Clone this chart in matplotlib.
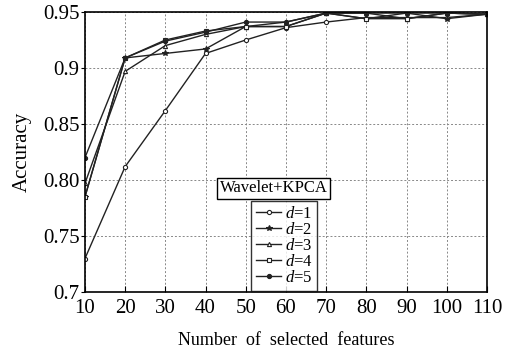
import matplotlib.pyplot as plt
import numpy as np

plt.rcParams["font.family"] = ["Liberation Serif", "DejaVu Serif"]
plt.rcParams["mathtext.fontset"] = "custom"
plt.rcParams["mathtext.it"] = "Liberation Serif:italic"
plt.rcParams["mathtext.rm"] = "Liberation Serif"

# Data
n_features = [10, 20, 30, 40, 50, 60, 70, 80, 90, 100, 110]
acc_d1 = [0.730, 0.812, 0.862, 0.913, 0.925, 0.936, 0.941, 0.945, 0.945, 0.945, 0.948]
acc_d2 = [0.785, 0.909, 0.913, 0.917, 0.937, 0.937, 0.949, 0.944, 0.949, 0.944, 0.948]
acc_d3 = [0.797, 0.897, 0.920, 0.930, 0.937, 0.941, 0.949, 0.949, 0.944, 0.949, 0.948]
acc_d4 = [0.785, 0.909, 0.925, 0.933, 0.937, 0.937, 0.949, 0.944, 0.944, 0.949, 0.948]
acc_d5 = [0.820, 0.909, 0.924, 0.932, 0.941, 0.941, 0.949, 0.949, 0.949, 0.949, 0.948]

series_labels = ["$d$=1", "$d$=2", "$d$=3", "$d$=4", "$d$=5"]
y_ticks = [0.7, 0.75, 0.80, 0.85, 0.9, 0.95]
y_tick_labels = ["0.7", "0.75", "0.80", "0.85", "0.9", "0.95"]

fig = plt.figure(figsize=(5.18, 3.52), dpi=100)
ax = fig.add_axes([0.164, 0.170, 0.776, 0.796])

styles = [
    dict(marker="o", mfc="white", ms=3),
    dict(marker="*", mfc="#222222", ms=4),
    dict(marker="^", mfc="white", ms=3),
    dict(marker="s", mfc="white", ms=3),
    dict(marker="o", mfc="#222222", ms=3),
]
all_acc = [acc_d1, acc_d2, acc_d3, acc_d4, acc_d5]
for acc, lab, st in zip(all_acc, series_labels, styles):
    ax.plot(n_features, acc, color="#222222", lw=1.0, mec="#222222",
            mew=0.8, label=lab, **st)

ax.set_xlim(10, 110)
ax.set_ylim(0.7, 0.95)
ax.set_xticks(n_features)
ax.set_yticks(y_ticks)
ax.set_yticklabels(y_tick_labels)
ax.tick_params(axis="x", direction="in", length=4, labelsize=15, pad=5)
ax.tick_params(axis="y", direction="out", length=3, labelsize=15, pad=1)
ax.grid(True, color="#888888", linestyle=(0, (2, 2)), lw=0.7)
for sp in ax.spines.values():
    sp.set_linewidth(1.2)

ax.set_xlabel("Number  of  selected  features", fontsize=13, labelpad=10)
ax.set_ylabel("Accuracy", fontsize=15, labelpad=8)

ax.text(0.47, 0.371, "Wavelet+KPCA", transform=ax.transAxes, fontsize=12,
        ha="center", va="center",
        bbox=dict(boxstyle="square,pad=0.15", fc="white", ec="black", lw=1))
leg = ax.legend(loc="center", bbox_to_anchor=(0.496, 0.166), fontsize=12,
                frameon=True, fancybox=False, edgecolor="black",
                handlelength=1.5, handletextpad=0.2, labelspacing=0.0,
                borderpad=0.3, borderaxespad=0)
leg.get_frame().set_linewidth(1)

fig.savefig("out.png", dpi=100)
